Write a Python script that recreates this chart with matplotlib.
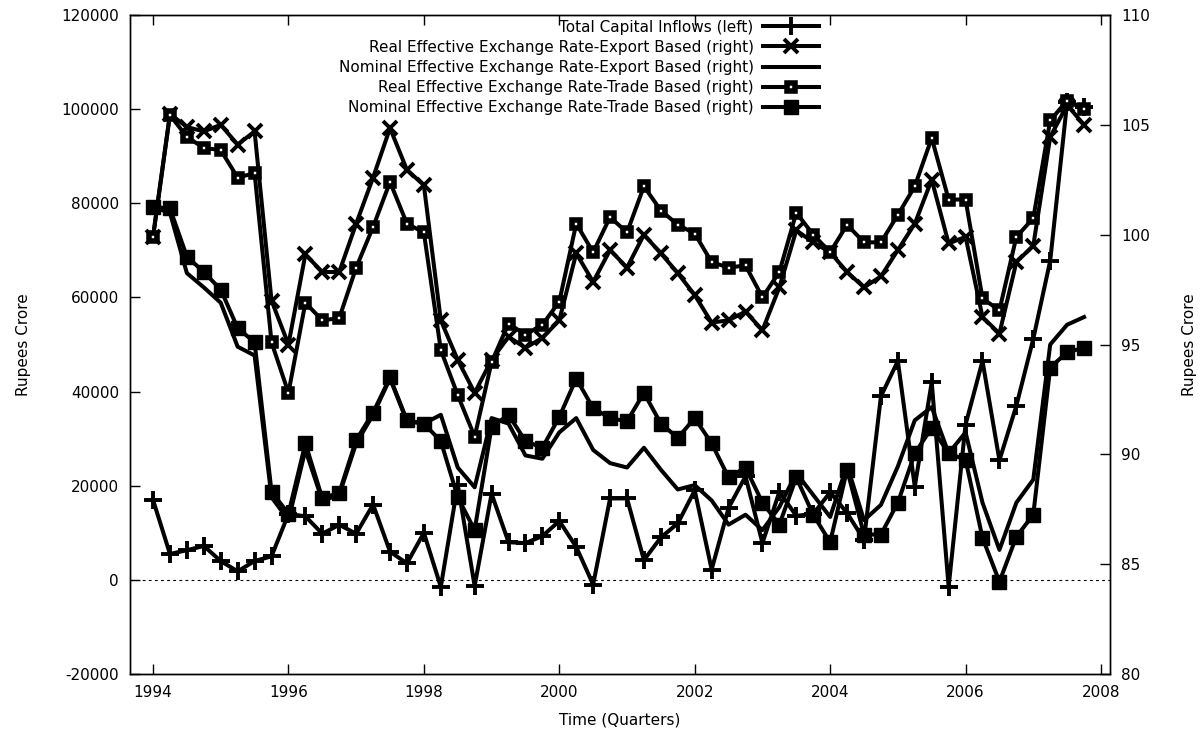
import numpy as np
import matplotlib
matplotlib.use("Agg")
import matplotlib.pyplot as plt

plt.rcParams['font.family'] = ['DejaVu Sans']
plt.rcParams['axes.unicode_minus'] = False

# Quarterly time index 1994Q1 .. 2007Q4
quarters = 1994 + np.arange(56) * 0.25

capital_inflows = [17000, 5500, 6300, 7200, 4000, 1800, 4000, 5000,
                   14000, 13500, 9800, 11700, 9800, 16000, 6000, 3500,
                   10000, -1500, 20200, -1300, 18300, 8000, 7800, 9300,
                   12500, 7000, -1000, 17300, 17300, 4200, 9000, 12000,
                   19000, 2200, 15300, 22000, 7800, 18700, 13600, 14000,
                   18600, 14200, 8500, 39000, 46500, 19800, 42000, -1500,
                   33000, 46500, 25400, 37000, 51200, 67800, 101500, 100500]

reer_export = [99.9, 105.5, 104.9, 104.7, 105.0, 104.1, 104.7, 97.0,
               95.0, 99.1, 98.3, 98.3, 100.5, 102.6, 104.85, 102.95,
               102.25, 96.1, 94.3, 92.8, 94.3, 95.35, 94.85, 95.3,
               96.1, 99.15, 97.85, 99.3, 98.5, 100.0, 99.15, 98.25,
               97.25, 96.0, 96.1, 96.5, 95.65, 97.6, 100.2, 99.65,
               99.2, 98.3, 97.6, 98.1, 99.3, 100.5, 102.5, 99.6,
               99.9, 96.25, 95.5, 98.75, 99.5, 104.45, 105.9, 105.0]

neer_export = [101.25, 101.0, 98.25, 97.6, 96.9, 94.9, 94.5, 88.05,
               87.0, 90.2, 87.9, 88.15, 90.5, 91.8, 93.45, 91.5,
               91.4, 91.8, 89.4, 88.5, 91.65, 91.4, 89.95, 89.8,
               91.0, 91.65, 90.2, 89.6, 89.4, 90.3, 89.3, 88.4,
               88.6, 87.9, 86.8, 87.25, 86.55, 87.6, 89.15, 88.15,
               87.15, 89.5, 87.0, 87.7, 89.45, 91.55, 92.15, 90.05,
               91.0, 87.8, 85.65, 87.8, 88.85, 95.0, 95.9, 96.25]

reer_trade = [99.9, 105.45, 104.45, 103.95, 103.85, 102.6, 102.8, 95.1,
              92.8, 96.9, 96.1, 96.2, 98.5, 100.35, 102.4, 100.5,
              100.1, 94.75, 92.7, 90.8, 94.2, 95.95, 95.45, 95.9,
              96.95, 100.5, 99.2, 100.8, 100.1, 102.2, 101.1, 100.45,
              100.05, 98.75, 98.5, 98.6, 97.15, 98.3, 101.0, 100.0,
              99.2, 100.45, 99.65, 99.65, 100.9, 102.2, 104.4, 101.6,
              101.6, 97.1, 96.55, 99.9, 100.75, 105.2, 106.1, 105.7]

neer_trade = [101.25, 101.2, 99.0, 98.3, 97.5, 95.75, 95.1, 88.3,
              87.3, 90.5, 88.0, 88.25, 90.65, 91.9, 93.5, 91.55,
              91.4, 90.6, 88.05, 86.55, 91.25, 91.8, 90.6, 90.3,
              91.7, 93.45, 92.1, 91.65, 91.5, 92.8, 91.4, 90.75,
              91.65, 90.5, 88.95, 89.4, 87.8, 86.8, 88.95, 87.25,
              86.0, 89.3, 86.35, 86.35, 87.8, 90.05, 91.2, 90.05,
              89.75, 86.2, 84.2, 86.25, 87.25, 93.95, 94.65, 94.85]

labels = ["Total Capital Inflows (left)",
          "Real Effective Exchange Rate-Export Based (right)",
          "Nominal Effective Exchange Rate-Export Based (right)",
          "Real Effective Exchange Rate-Trade Based (right)",
          "Nominal Effective Exchange Rate-Trade Based (right)"]

left_ticks = [-20000, 0, 20000, 40000, 60000, 80000, 100000, 120000]
right_ticks = [80, 85, 90, 95, 100, 105, 110]
x_ticks = [1994, 1996, 1998, 2000, 2002, 2004, 2006, 2008]

fig = plt.figure(figsize=(12.03, 7.38), dpi=100)
ax = fig.add_axes([130/1203, 1 - 674/738, 980/1203, 659/738])
ax2 = ax.twinx()

lw = 2.9
fs = 11

ax.axhline(0, color='black', lw=0.8, ls=(0, (2.5, 3)), zorder=1)

h1, = ax.plot(quarters, capital_inflows, color='black', lw=lw, marker='+',
              ms=13.5, mew=2.8, zorder=3)
h2, = ax2.plot(quarters, reer_export, color='black', lw=lw, marker='x',
               ms=10, mew=2.8)
h3, = ax2.plot(quarters, neer_export, color='black', lw=lw)
h4, = ax2.plot(quarters, reer_trade, color='black', lw=lw, marker='s',
               ms=5.5, mew=4.0, mfc='white', mec='black')
h5, = ax2.plot(quarters, neer_trade, color='black', lw=lw, marker='s',
               ms=10.5, mfc='black', mec='black')

ax.set_xlim(1993.66, 2008.133)
ax.set_ylim(-20000, 120000)
ax2.set_ylim(80, 110)
ax.set_xticks(x_ticks)
ax.set_yticks(left_ticks)
ax2.set_yticks(right_ticks)

ax.tick_params(axis='x', direction='in', top=True, length=7, width=1,
               labelsize=fs, pad=8)
ax.tick_params(axis='y', direction='in', right=False, length=7, width=1,
               labelsize=fs, pad=8)
ax2.tick_params(axis='y', direction='in', length=7, width=1,
                labelsize=fs, pad=8)

for a in (ax, ax2):
    for s in a.spines.values():
        s.set_linewidth(1.0)

ax.set_xlabel("Time (Quarters)", fontsize=fs, labelpad=9)
ax.set_ylabel("Rupees Crore", fontsize=fs, labelpad=22)
ax2.set_ylabel("Rupees Crore", fontsize=fs, labelpad=23)

leg = ax2.legend([h1, h2, h3, h4, h5], labels, loc='upper right',
                 bbox_to_anchor=(0.708, 1.0), frameon=False, markerfirst=False,
                 fontsize=fs, handlelength=3.7, handletextpad=0.6,
                 labelspacing=0.34, borderpad=0.3, borderaxespad=0.0)

fig.savefig("out.png", dpi=100)
